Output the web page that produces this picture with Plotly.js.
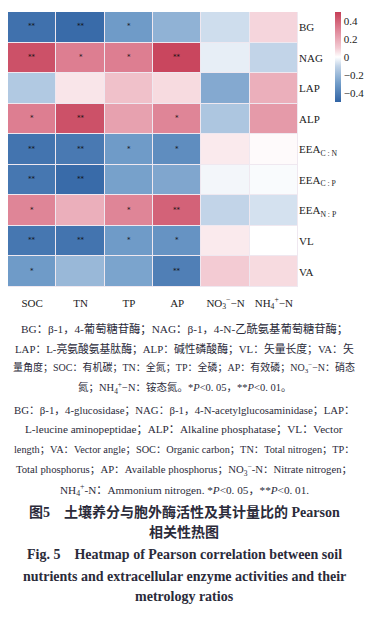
<!DOCTYPE html>
<html><head><meta charset="utf-8">
<script src="https://cdn.plot.ly/plotly-3.0.1.min.js"></script>
<style>html,body{margin:0;padding:0;background:#fff}#chart{width:368px;height:617px}</style>
</head><body><div id="chart"></div>
<script>
const columns = ['SOC','TN','TP','AP','NO<sub>3</sub><sup>−</sup>−N','NH<sub>4</sub><sup>+</sup>−N'];
const rows = ['BG','NAG','LAP','ALP','EEA<sub>C : N</sub>','EEA<sub>C : P</sub>','EEA<sub>N : P</sub>','VL','VA'];
const values = [
  [-0.45,-0.47,-0.30,-0.22,-0.08, 0.08],
  [ 0.45, 0.32, 0.32, 0.48,-0.04,-0.10],
  [-0.14, 0.05, 0.13, 0.07,-0.25, 0.18],
  [ 0.32, 0.45, 0.22, 0.30,-0.15, 0.24],
  [-0.44,-0.42,-0.30,-0.35, 0.04, 0.01],
  [-0.43,-0.47,-0.28,-0.26,-0.02,-0.01],
  [ 0.30, 0.18, 0.30, 0.40,-0.10,-0.07],
  [-0.43,-0.44,-0.30,-0.33, 0.04, 0.00],
  [-0.30,-0.20,-0.27,-0.40, 0.10, 0.07]
];
const signif = [
  ['**','**','*','','',''],
  ['**','*','*','**','',''],
  ['','','','','',''],
  ['*','**','','*','',''],
  ['**','**','*','*','',''],
  ['**','**','','','',''],
  ['*','','*','**','',''],
  ['**','**','*','*','',''],
  ['*','','','**','','']
];
const colorbarTicks = [-0.4,-0.2,0,0.2,0.4];
const captionLines = [
  'BG：β-1，4-葡萄糖苷酶；NAG：β-1，4-N-乙酰氨基葡萄糖苷酶；',
  'LAP：L-亮氨酸氨基肽酶；ALP：碱性磷酸酶；VL：矢量长度；VA：矢',
  '量角度；SOC：有机碳；TN：全氮；TP：全磷；AP：有效磷；NO<sub>3</sub><sup>−</sup>−N：硝态',
  '氮；NH<sub>4</sub><sup>+</sup>−N：铵态氮。*<i>P</i><0. 05，**<i>P</i><0. 01。',
  'BG：β-1，4-glucosidase；NAG：β-1，4-N-acetylglucosaminidase；LAP：',
  'L-leucine aminopeptidae；ALP：Alkaline phosphatase；VL：Vector',
  'length；VA：Vector angle；SOC：Organic carbon；TN：Total nitrogen；TP：',
  'Total phosphorus；AP：Available phosphorus；NO<sub>3</sub><sup>−</sup>-N：Nitrate nitrogen；',
  'NH<sub>4</sub><sup>+</sup>-N：Ammonium nitrogen. *<i>P</i><0. 05，**<i>P</i><0. 01.'
];
const titleLines = [
  '图5　土壤养分与胞外酶活性及其计量比的 Pearson',
  '相关性热图',
  'Fig. 5　Heatmap of Pearson correlation between soil',
  'nutrients and extracellular enzyme activities and their',
  'metrology ratios'
];

const W=368,H=617, L=8, R=70, T=12, B=330;
const PH = H-T-B, PW = W-L-R;
const py = p => (H-B-p)/PH;
const px = p => (p-L)/PW;

const serif = 'Liberation Serif, Times New Roman, Noto Sans CJK SC, serif';
const annotations = [];
rows.forEach((r,i)=>columns.forEach((c,j)=>{
  if(signif[i][j]) annotations.push({x:c,y:r,xref:'x',yref:'y',text:signif[i][j],showarrow:false,
    font:{family:'DejaVu Sans',size:7,color:'#111'},yshift:1});
}));
const capY = [328,348,368,388,410,429,449,470,490];
const capSize = [11.3,10.8,10.0,10.5,10.8,11.2,10.3,10.7,11.2];
captionLines.forEach((t,k)=>annotations.push({x:px(184),y:py(capY[k]),xref:'paper',yref:'paper',
  text:t,showarrow:false,xanchor:'center',yanchor:'middle',font:{family:serif,size:capSize[k],color:'#2b2b3a'}}));
const titY = [512,532,554,576,597];
const titSize = [14,14,14,14,14];
titleLines.forEach((t,k)=>annotations.push({x:px(184),y:py(titY[k]),xref:'paper',yref:'paper',
  text:'<b>'+t+'</b>',showarrow:false,xanchor:'center',yanchor:'middle',font:{family:serif,size:titSize[k],color:'#2b2b3a'}}));

const trace = {
  type:'heatmap', x:columns, y:rows, z:values, zmin:-0.5, zmax:0.5,
  xgap:1, ygap:1,
  colorscale:[[0,'#3063a4'],[0.2,'#6f9bc8'],[0.4,'#c2d4e8'],[0.5,'#ffffff'],[0.6,'#f3cbd3'],[0.8,'#df8597'],[1,'#c63f58']],
  colorbar:{x:px(335),xanchor:'left',xref:'paper',xpad:0,ypad:0,y:py(57),yanchor:'middle',lenmode:'pixels',len:90,
    thickness:6,thicknessmode:'pixels',outlinewidth:0,tickvals:colorbarTicks,ticks:'',
    tickfont:{family:serif,size:11,color:'#222'},ticklabelpad:2},
  hoverinfo:'none'
};
const layout = {
  width:W,height:H,margin:{l:L,r:R,t:T,b:B,autoexpand:false},paper_bgcolor:'#fff',plot_bgcolor:'#efe8f0',
  xaxis:{type:'category',showgrid:false,zeroline:false,ticks:'',ticklabelstandoff:8,automargin:false,
    tickfont:{family:serif,size:11,color:'#222'},fixedrange:true},
  yaxis:{type:'category',autorange:'reversed',side:'right',showgrid:false,zeroline:false,ticks:'',automargin:false,
    ticklabelstandoff:0,tickfont:{family:serif,size:11,color:'#222'},fixedrange:true},
  annotations:annotations,showlegend:false
};
Plotly.newPlot('chart',[trace],layout,{displayModeBar:false,staticPlot:true});
</script></body></html>
